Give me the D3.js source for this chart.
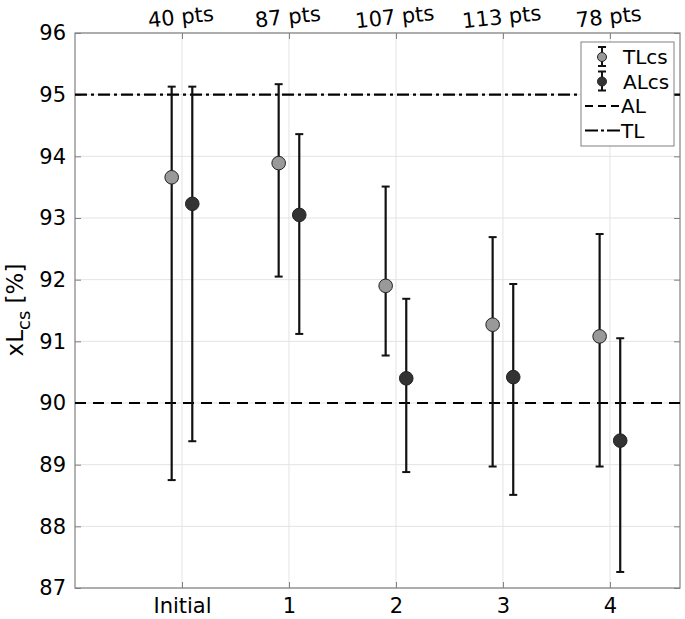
<!DOCTYPE html>
<html>
<head>
<meta charset="utf-8">
<script src="https://cdn.jsdelivr.net/npm/d3@7"></script>
<style>
  body { margin: 0; background: #fff; }
  text { font-family: "DejaVu Sans", sans-serif; }
</style>
</head>
<body>
<div id="chart"></div>
<script>
// DATA
var categories = ['Initial', '1', '2', '3', '4'];
var pointCounts = ['40 pts', '87 pts', '107 pts', '113 pts', '78 pts'];
var tlMean = [93.66, 93.89, 91.90, 91.27, 91.08];
var tlLow = [88.75, 92.05, 90.77, 88.97, 88.97];
var tlHigh = [95.13, 95.17, 93.51, 92.69, 92.74];
var alMean = [93.23, 93.05, 90.40, 90.42, 89.39];
var alLow = [89.38, 91.12, 88.88, 88.51, 87.26];
var alHigh = [95.13, 94.36, 91.69, 91.93, 91.05];
var yTicks = [87, 88, 89, 90, 91, 92, 93, 94, 95, 96];
var alLevel = 90, tlLevel = 95;

var W = 685, H = 619;
var mLeft = 75, mRight = 680, mTop = 33, mBottom = 588;

var svg = d3.select('#chart').append('svg')
    .attr('width', W)
    .attr('height', H);

var x = d3.scaleLinear().domain([0, 5.655]).range([mLeft, mRight]);
var y = d3.scaleLinear().domain([87, 96]).range([mBottom, mTop]);
var xPos = function (i) { return x(i + 1); };

var axisColor = '#808080';

// grid
var g = svg.append('g');
g.selectAll('line.hgrid')
    .data(yTicks)
    .enter().append('line')
    .attr('x1', mLeft).attr('x2', mRight)
    .attr('y1', d => y(d)).attr('y2', d => y(d))
    .style('stroke', '#e3e3e3').style('stroke-width', 1);
g.selectAll('line.vgrid')
    .data(categories)
    .enter().append('line')
    .attr('x1', (d, i) => xPos(i)).attr('x2', (d, i) => xPos(i))
    .attr('y1', mTop).attr('y2', mBottom)
    .style('stroke', '#e3e3e3').style('stroke-width', 1);

// axes (box with inward ticks)
var xAxisScale = d3.scalePoint().domain(categories)
    .range([xPos(0), xPos(categories.length - 1)]);

function styleAxis(s) {
    s.select('.domain').remove();
    s.selectAll('.tick line').style('stroke', axisColor);
    s.selectAll('.tick text')
        .style('font-size', '21px')
        .style('fill', '#000');
}

svg.append('g')
    .attr('transform', 'translate(0,' + mBottom + ')')
    .call(d3.axisBottom(xAxisScale).tickSizeInner(-6).tickPadding(10))
    .call(styleAxis);
svg.append('g')
    .attr('transform', 'translate(0,' + mTop + ')')
    .call(d3.axisTop(xAxisScale).tickSizeInner(-6).tickFormat((d, i) => pointCounts[i]))
    .call(styleAxis)
    .selectAll('.tick text')
    .attr('y', -9)
    .attr('transform', 'rotate(-6)');
svg.append('g')
    .attr('transform', 'translate(' + mLeft + ',0)')
    .call(d3.axisLeft(y).tickValues(yTicks).tickSizeInner(-6).tickPadding(9))
    .call(styleAxis);
svg.append('g')
    .attr('transform', 'translate(' + mRight + ',0)')
    .call(d3.axisRight(y).tickValues(yTicks).tickSizeInner(-6).tickFormat(''))
    .call(styleAxis);

svg.append('rect')
    .attr('x', mLeft).attr('y', mTop)
    .attr('width', mRight - mLeft).attr('height', mBottom - mTop)
    .style('fill', 'none').style('stroke', axisColor).style('stroke-width', 1.2);

// reference lines
svg.append('line')
    .attr('x1', mLeft).attr('x2', mRight)
    .attr('y1', y(alLevel)).attr('y2', y(alLevel))
    .style('stroke', '#000').style('stroke-width', 2.2)
    .style('stroke-dasharray', '11,7');
svg.append('line')
    .attr('x1', mLeft).attr('x2', mRight)
    .attr('y1', y(tlLevel)).attr('y2', y(tlLevel))
    .style('stroke', '#000').style('stroke-width', 2.2)
    .style('stroke-dasharray', '12,4,3,4');

// error bars + markers
function drawSeries(mean, low, high, offset, fill) {
    var s = svg.append('g');
    s.selectAll('line.bar').data(mean).enter().append('line')
        .attr('x1', (d, i) => xPos(i) + offset).attr('x2', (d, i) => xPos(i) + offset)
        .attr('y1', (d, i) => y(low[i])).attr('y2', (d, i) => y(high[i]))
        .style('stroke', '#111').style('stroke-width', 2.2);
    s.selectAll('line.capl').data(mean).enter().append('line')
        .attr('x1', (d, i) => xPos(i) + offset - 4).attr('x2', (d, i) => xPos(i) + offset + 4)
        .attr('y1', (d, i) => y(low[i])).attr('y2', (d, i) => y(low[i]))
        .style('stroke', '#111').style('stroke-width', 2);
    s.selectAll('line.caph').data(mean).enter().append('line')
        .attr('x1', (d, i) => xPos(i) + offset - 4).attr('x2', (d, i) => xPos(i) + offset + 4)
        .attr('y1', (d, i) => y(high[i])).attr('y2', (d, i) => y(high[i]))
        .style('stroke', '#111').style('stroke-width', 2);
    s.selectAll('circle').data(mean).enter().append('circle')
        .attr('cx', (d, i) => xPos(i) + offset)
        .attr('cy', d => y(d))
        .attr('r', 6.8)
        .style('fill', fill)
        .style('stroke', '#222').style('stroke-width', 1);
}
drawSeries(tlMean, tlLow, tlHigh, -10.3, '#999999');
drawSeries(alMean, alLow, alHigh, 10.3, '#333333');

// y label
var yl = svg.append('text')
    .attr('transform', 'translate(23,310) rotate(-90)')
    .attr('text-anchor', 'middle')
    .style('font-size', '23px');
yl.append('tspan').text('xL');
yl.append('tspan').attr('dy', 7).style('font-size', '18px').text('cs');
yl.append('tspan').attr('dy', -7).text(' [%]');

// legend
var lg = svg.append('g');
lg.append('rect')
    .attr('x', 581).attr('y', 42).attr('width', 93).attr('height', 104)
    .style('fill', '#fff').style('stroke', axisColor).style('stroke-width', 1);

var legendItems = [
    { label: 'TLcs', type: 'eb', fill: '#999999' },
    { label: 'ALcs', type: 'eb', fill: '#333333' },
    { label: 'AL', type: 'line', dash: '8,5' },
    { label: 'TL', type: 'line', dash: '13,3,3,3' }
];
legendItems.forEach(function (it, i) {
    var cy = 57 + i * 24.5;
    if (it.type === 'eb') {
        lg.append('line').attr('x1', 602).attr('x2', 602)
            .attr('y1', cy - 10).attr('y2', cy + 9)
            .style('stroke', '#111').style('stroke-width', 2);
        [cy - 10, cy + 9].forEach(function (cc) {
            lg.append('line').attr('x1', 598).attr('x2', 606)
                .attr('y1', cc).attr('y2', cc)
                .style('stroke', '#111').style('stroke-width', 2);
        });
        lg.append('circle').attr('cx', 602).attr('cy', cy).attr('r', 4.5)
            .style('fill', it.fill).style('stroke', '#222').style('stroke-width', 1);
    } else {
        lg.append('line').attr('x1', 585).attr('x2', 621)
            .attr('y1', cy).attr('y2', cy)
            .style('stroke', '#000').style('stroke-width', 2.2)
            .style('stroke-dasharray', it.dash);
    }
    lg.append('text')
        .attr('x', it.type === 'eb' ? 623 : 621)
        .attr('y', cy + 7)
        .style('font-size', '20px')
        .text(it.label);
});
</script>
</body>
</html>
